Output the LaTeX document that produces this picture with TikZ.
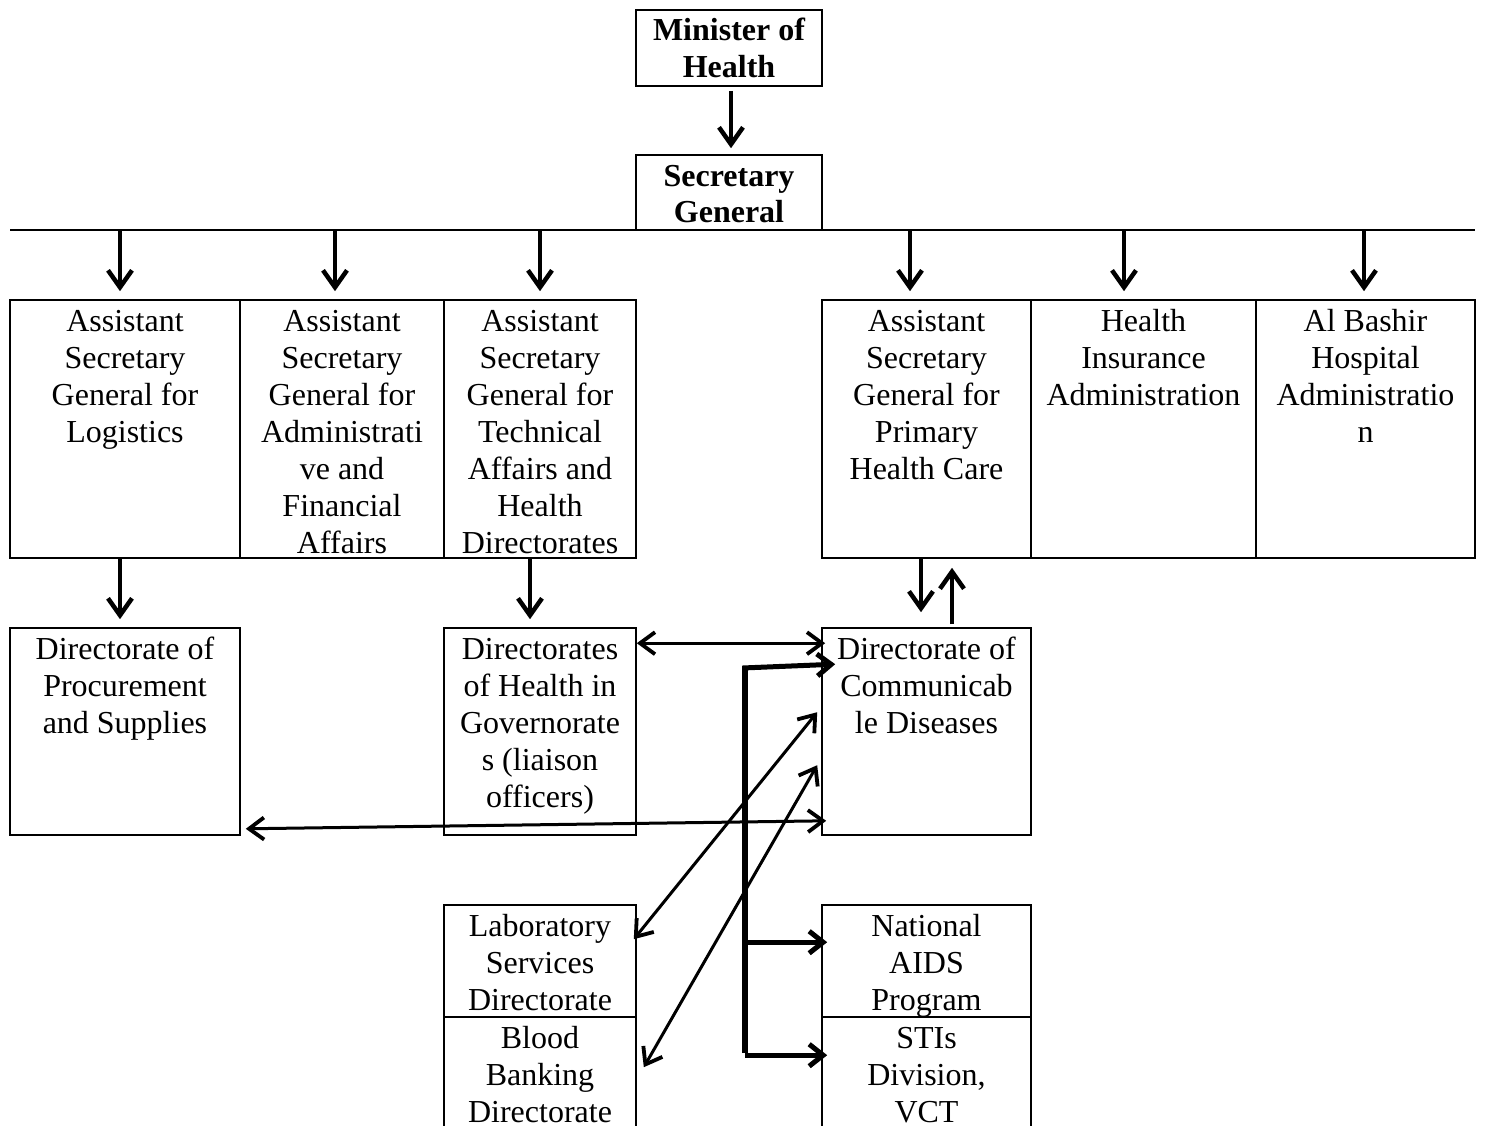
\documentclass[tikz,border=0pt]{standalone}
\usepackage{fontspec}
\setmainfont{Liberation Serif}
\usetikzlibrary{arrows.meta,calc}
\tikzset{
  orgboxstyle/.style={draw, line width=1.6pt, inner sep=0pt, font=\fontsize{32pt}{37pt}\selectfont},
  arr/.style={line width=3.8pt, -{Straight Barb[length=17pt,width=24pt,line width=4.5pt 0]}},
  darr/.style={line width=3pt, {Straight Barb[length=15pt,width=22pt,line width=3.8pt 0]}-{Straight Barb[length=15pt,width=22pt,line width=3.8pt 0]}},
  thickarr/.style={line width=5pt, -{Straight Barb[length=14pt,width=22pt,line width=5pt 0]}},
  busline/.style={line width=1.8pt},
  thickline/.style={line width=5.5pt}
}
\newcommand\orgbox[6]{\node[orgboxstyle, minimum width=#4pt, minimum height=#5pt] (#1) at (#2,#3) {\parbox[c][#5pt][t]{#4pt}{\centering\rule{0pt}{31pt}#6}};}
\begin{document}
\begin{tikzpicture}[x=1pt,y=-1pt]
\useasboundingbox (0,0) rectangle (1485,1126);
% top boxes
\orgbox{min}{729}{48}{186}{76}{\bfseries Minister of\\Health}
\orgbox{sg}{729}{192.5}{186}{75}{\bfseries Secretary\\General}
% second row
\orgbox{log}{125}{429}{230}{258}{Assistant\\Secretary\\General for\\Logistics}
\orgbox{adm}{342}{429}{204}{258}{Assistant\\Secretary\\General for\\Administrati\\ve and\\Financial\\Affairs}
\orgbox{tec}{540}{429}{192}{258}{Assistant\\Secretary\\General for\\Technical\\Affairs and\\Health\\Directorates}
\orgbox{phc}{926.5}{429}{209}{258}{Assistant\\Secretary\\General for\\Primary\\Health Care}
\orgbox{hi}{1143.5}{429}{225}{258}{Health\\Insurance\\Administration}
\orgbox{ab}{1365.5}{429}{219}{258}{Al Bashir\\Hospital\\Administratio\\n}
% third row
\orgbox{pro}{125}{731.5}{230}{207}{Directorate of\\Procurement\\and Supplies}
\orgbox{gov}{540}{731.5}{192}{207}{Directorates\\of Health in\\Governorate\\s (liaison\\officers)}
\orgbox{dcd}{926.5}{731.5}{209}{207}{Directorate of\\Communicab\\le Diseases}
% bottom
\orgbox{lab}{540}{961}{192}{112}{Laboratory\\Services\\Directorate}
\orgbox{bld}{540}{1076}{192}{118}{Blood\\Banking\\Directorate}
\orgbox{aids}{926.5}{961}{209}{112}{National\\AIDS\\Program}
\orgbox{sti}{926.5}{1076}{209}{118}{STIs\\Division,\\VCT}
% minister to SG
\draw[arr, shorten <=4pt, shorten >=6pt] ([xshift=2pt]min.south) -- ([xshift=2pt]sg.north);
% bus
\coordinate (bL) at (10,230);
\coordinate (bR) at (1475,230);
\draw[busline] (bL) -- (bR);
\coordinate (b1) at (120,230);
\coordinate (b2) at (335,230);
\coordinate (b3) at (540,230);
\coordinate (b4) at (910,230);
\coordinate (b5) at (1124,230);
\coordinate (b6) at (1364,230);
\draw[arr, shorten >=8pt] (b1) -- (b1 |- log.north);
\draw[arr, shorten >=8pt] (b2) -- (b2 |- adm.north);
\draw[arr, shorten >=8pt] (b3) -- (b3 |- tec.north);
\draw[arr, shorten >=8pt] (b4) -- (b4 |- phc.north);
\draw[arr, shorten >=8pt] (b5) -- (b5 |- hi.north);
\draw[arr, shorten >=8pt] (b6) -- (b6 |- ab.north);
% row 2 to row 3
\draw[arr, shorten >=8pt] (log.south -| b1) -- (pro.north -| b1);
\draw[arr, shorten >=8pt] ([xshift=-10pt]tec.south) -- ([xshift=-10pt]gov.north);
\draw[arr, shorten >=15pt] ([xshift=-5.5pt]phc.south) -- ([xshift=-5.5pt]dcd.north);
\draw[arr, shorten <=3pt, shorten >=9pt] ([xshift=25.5pt]dcd.north) -- ([xshift=25.5pt]phc.south);
% gov <-> dcd
\draw[darr] ($(gov.north east)+(0,16)$) -- ($(dcd.north west)+(4,16)$);
% thick bracket
\coordinate (t1) at (745,668);
\coordinate (t2) at (745,1053);
\draw[thickline] (t2) -- ($(t1)+(0,-2)$);
\draw[thickarr] ($(t1)+(-2.5,0)$) -- ($(dcd.north west)+(14,37)$);
\coordinate (a1) at ($(aids.north west)+(6,38)$);
\coordinate (s1) at ($(sti.north west)+(6,39)$);
\draw[thickarr] (t1 |- a1) -- (a1);
\draw[thickarr] (t1 |- s1) -- (s1);
% long double arrow
\draw[darr] ($(pro.south east)+(5,-7)$) -- ($(dcd.south west)+(5,-15)$);
% diagonals
\draw[darr] ($(lab.north east)+(-3,35)$) -- ($(dcd.north west)+(-4,85)$);
\draw[darr] ($(bld.north east)+(7,51)$) -- ($(dcd.north west)+(-4,138)$);
\end{tikzpicture}
\end{document}
